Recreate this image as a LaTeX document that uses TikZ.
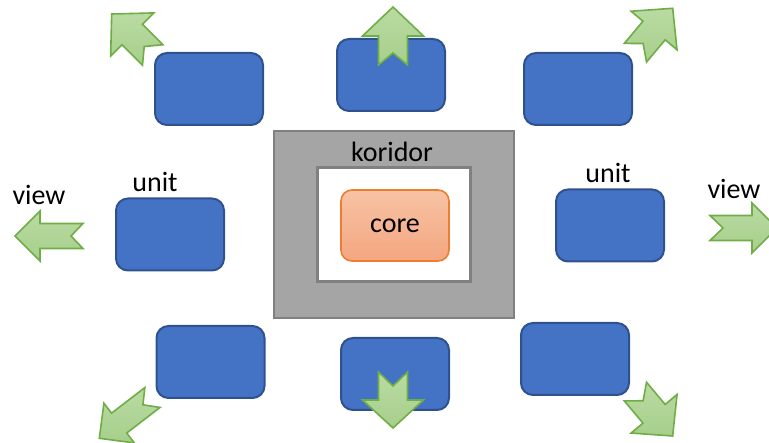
\documentclass[tikz,border=0pt]{standalone}
\usepackage{fontspec}
\setmainfont{Carlito}

\definecolor{unitfill}{HTML}{4472C4}
\definecolor{unitline}{HTML}{2F528F}
\definecolor{corrfill}{HTML}{A5A5A5}
\definecolor{corrline}{HTML}{808080}
\definecolor{coretop}{HTML}{F7C3A4}
\definecolor{corebot}{HTML}{F4A680}
\definecolor{coreline}{HTML}{ED7D31}
\definecolor{viewtop}{HTML}{BADBA3}
\definecolor{viewbot}{HTML}{A6CF8B}
\definecolor{viewline}{HTML}{70AD47}

% notched block arrow, tip at (#1,#2), pointing at angle #3;
% #4 length, #5 head width, #6 shaft width, #7 head length, #8 notch depth
\newcommand\viewarrow[8]{%
  \draw[viewarrowbody, shift={(#1,#2)}, rotate=#3]
    (0,0) -- (-#7,#5/2) -- (-#7,#6/2) -- (-#4,#6/2) -- (-#4+#8,0)
    -- (-#4,-#6/2) -- (-#7,-#6/2) -- (-#7,-#5/2) -- cycle;}

\tikzset{
  label28/.style={font=\fontsize{28pt}{34pt}\selectfont, text=black, inner sep=0pt, anchor=base},
  unitbox/.style={draw=unitline, fill=unitfill, line width=2pt, rounded corners=12pt,
    minimum width=108pt, minimum height=72pt, inner sep=0pt},
  viewarrowbody/.style={draw=viewline, line width=1.6pt, line join=miter,
    top color=viewtop, bottom color=viewbot},
}

\begin{document}
\begin{tikzpicture}[x=1pt, y=-1pt]
  \useasboundingbox (0,0) rectangle (769,443);
  \clip (0,0) rectangle (769,443);

  % corridor ring and core
  \node[draw=corrline, fill=corrfill, line width=2pt, minimum width=240pt,
        minimum height=187pt, inner sep=0pt] (koridor) at (394,224.5) {};
  \node[draw=corrline, fill=white, line width=2.5pt, minimum width=153pt,
        minimum height=114pt, inner sep=0pt] (hall) at (394,224.5) {};
  \node[draw=coreline, line width=1.6pt, top color=coretop, bottom color=corebot,
        rounded corners=11pt, minimum width=108pt, minimum height=71pt,
        font=\fontsize{28pt}{34pt}\selectfont, inner sep=0pt] (core) at (395,225.5) {core};
  \node[label28] (koridorlabel) at (392,162) {koridor};

  % units
  \node[unitbox] (uTL) at (209,89) {};
  \node[unitbox] (uTM) at (391,75) {};
  \node[unitbox] (uTR) at (578,89) {};
  \node[unitbox] (uL)  at (170,234.5) {};
  \node[unitbox] (uR)  at (610,225.5) {};
  \node[unitbox] (uBL) at (210.5,362) {};
  \node[unitbox] (uBM) at (395,374) {};
  \node[unitbox] (uBR) at (575,359) {};

  \node[label28] (unitL) at (155,192) {unit};
  \node[label28] (unitR) at (608,183) {unit};
  \node[label28] (viewL) at (39,205) {view};
  \node[label28] (viewR) at (734,199) {view};

  % views
  \viewarrow{111.7}{14}{135}{58}{61}{29}{29}{12}
  \viewarrow{393}{7}{90}{58}{61}{29}{29}{12}
  \viewarrow{672.7}{8.3}{50}{58}{60}{29}{29}{12}
  \viewarrow{15}{236}{180}{68}{50}{25}{25}{12}
  \viewarrow{777}{228}{0}{67}{50}{25}{25}{13}
  \viewarrow{99.3}{438.3}{-142.5}{67}{50}{25}{25}{12}
  \viewarrow{393}{428}{-90}{56}{61}{29}{28}{14}
  \viewarrow{672.7}{436}{-50}{58}{60}{29}{29}{12}
\end{tikzpicture}
\end{document}
